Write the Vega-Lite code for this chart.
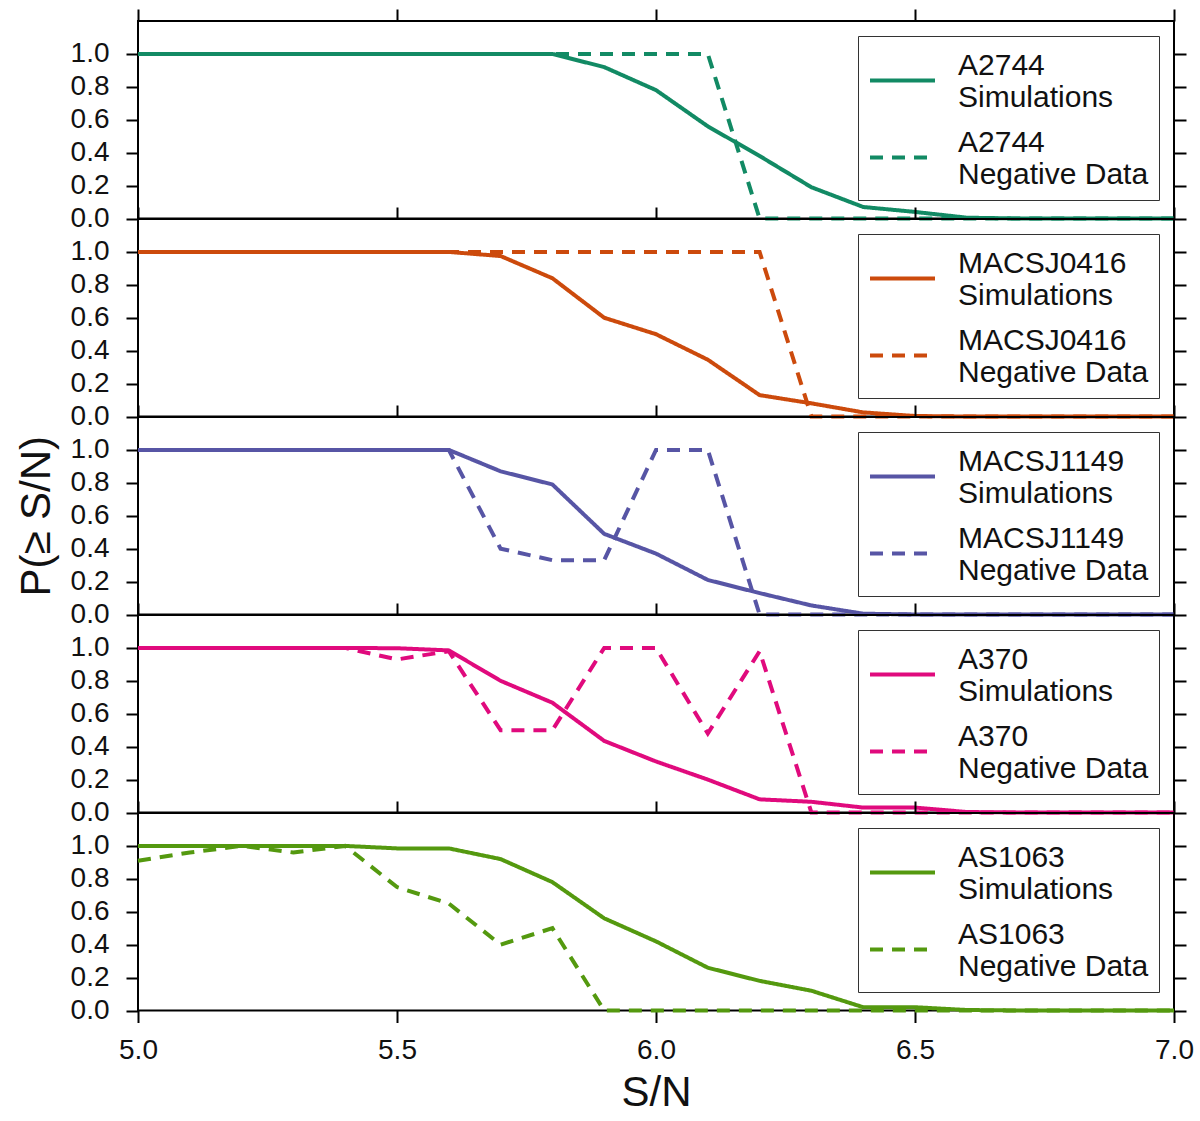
{
  "$schema": "https://vega.github.io/schema/vega-lite/v6.json",
  "background": "white",
  "padding": {"left": 14, "top": 7, "right": 6, "bottom": 6},
  "spacing": 0,
  "bounds": "flush",
  "config": {
    "font": "Liberation Sans",
    "view": {"stroke": "black", "strokeWidth": 2},
    "axis": {
      "domain": false, "grid": false, "ticks": true,
      "tickColor": "black", "tickWidth": 2, "tickSize": 12,
      "labelFont": "Liberation Sans", "labelFontSize": 28, "labelColor": "#111",
      "labelFlush": false, "labelPadding": 17,
      "titleFont": "Liberation Sans", "titleFontSize": 42, "titleFontWeight": "normal", "titleColor": "#111"
    },
    "legend": {
      "orient": "top-right", "offset": 15, "title": null,
      "fillColor": "white", "strokeColor": "#333", "padding": 10, "rowPadding": 10,
      "symbolType": "stroke", "symbolSize": 4225, "symbolStrokeWidth": 4,
      "labelFont": "Liberation Sans", "labelFontSize": 30, "labelColor": "#111", "labelBaseline": "bottom",
      "labelLimit": 400, "labelOffset": 21, "cornerRadius": 0
    }
  },
  "resolve": {
    "scale": {"color": "independent", "strokeDash": "independent"},
    "legend": {"color": "independent", "strokeDash": "independent"}
  },
  "datasets": {
    "A2744": [
      {"t": "Simulations", "x": 5.0, "p": 1}, {"t": "Simulations", "x": 5.1, "p": 1}, {"t": "Simulations", "x": 5.2, "p": 1},
      {"t": "Simulations", "x": 5.3, "p": 1}, {"t": "Simulations", "x": 5.4, "p": 1}, {"t": "Simulations", "x": 5.5, "p": 1},
      {"t": "Simulations", "x": 5.6, "p": 1}, {"t": "Simulations", "x": 5.7, "p": 1}, {"t": "Simulations", "x": 5.8, "p": 1},
      {"t": "Simulations", "x": 5.9, "p": 0.92}, {"t": "Simulations", "x": 6.0, "p": 0.78}, {"t": "Simulations", "x": 6.1, "p": 0.56},
      {"t": "Simulations", "x": 6.2, "p": 0.38}, {"t": "Simulations", "x": 6.3, "p": 0.19}, {"t": "Simulations", "x": 6.4, "p": 0.07},
      {"t": "Simulations", "x": 6.5, "p": 0.04}, {"t": "Simulations", "x": 6.6, "p": 0.005}, {"t": "Simulations", "x": 6.7, "p": 0},
      {"t": "Simulations", "x": 6.8, "p": 0}, {"t": "Simulations", "x": 6.9, "p": 0}, {"t": "Simulations", "x": 7.0, "p": 0},
      {"t": "Negative Data", "x": 5.0, "p": 1}, {"t": "Negative Data", "x": 5.1, "p": 1}, {"t": "Negative Data", "x": 5.2, "p": 1},
      {"t": "Negative Data", "x": 5.3, "p": 1}, {"t": "Negative Data", "x": 5.4, "p": 1}, {"t": "Negative Data", "x": 5.5, "p": 1},
      {"t": "Negative Data", "x": 5.6, "p": 1}, {"t": "Negative Data", "x": 5.7, "p": 1}, {"t": "Negative Data", "x": 5.8, "p": 1},
      {"t": "Negative Data", "x": 5.9, "p": 1}, {"t": "Negative Data", "x": 6.0, "p": 1}, {"t": "Negative Data", "x": 6.1, "p": 1},
      {"t": "Negative Data", "x": 6.2, "p": 0}, {"t": "Negative Data", "x": 6.3, "p": 0}, {"t": "Negative Data", "x": 6.4, "p": 0},
      {"t": "Negative Data", "x": 6.5, "p": 0}, {"t": "Negative Data", "x": 6.6, "p": 0}, {"t": "Negative Data", "x": 6.7, "p": 0},
      {"t": "Negative Data", "x": 6.8, "p": 0}, {"t": "Negative Data", "x": 6.9, "p": 0}, {"t": "Negative Data", "x": 7.0, "p": 0}
    ],
    "MACSJ0416": [
      {"t": "Simulations", "x": 5.0, "p": 1}, {"t": "Simulations", "x": 5.1, "p": 1}, {"t": "Simulations", "x": 5.2, "p": 1},
      {"t": "Simulations", "x": 5.3, "p": 1}, {"t": "Simulations", "x": 5.4, "p": 1}, {"t": "Simulations", "x": 5.5, "p": 1},
      {"t": "Simulations", "x": 5.6, "p": 1}, {"t": "Simulations", "x": 5.7, "p": 0.975}, {"t": "Simulations", "x": 5.8, "p": 0.84},
      {"t": "Simulations", "x": 5.9, "p": 0.6}, {"t": "Simulations", "x": 6.0, "p": 0.5}, {"t": "Simulations", "x": 6.1, "p": 0.345},
      {"t": "Simulations", "x": 6.2, "p": 0.13}, {"t": "Simulations", "x": 6.3, "p": 0.08}, {"t": "Simulations", "x": 6.4, "p": 0.025},
      {"t": "Simulations", "x": 6.5, "p": 0.003}, {"t": "Simulations", "x": 6.6, "p": 0}, {"t": "Simulations", "x": 6.7, "p": 0},
      {"t": "Simulations", "x": 6.8, "p": 0}, {"t": "Simulations", "x": 6.9, "p": 0}, {"t": "Simulations", "x": 7.0, "p": 0},
      {"t": "Negative Data", "x": 5.0, "p": 1}, {"t": "Negative Data", "x": 5.1, "p": 1}, {"t": "Negative Data", "x": 5.2, "p": 1},
      {"t": "Negative Data", "x": 5.3, "p": 1}, {"t": "Negative Data", "x": 5.4, "p": 1}, {"t": "Negative Data", "x": 5.5, "p": 1},
      {"t": "Negative Data", "x": 5.6, "p": 1}, {"t": "Negative Data", "x": 5.7, "p": 1}, {"t": "Negative Data", "x": 5.8, "p": 1},
      {"t": "Negative Data", "x": 5.9, "p": 1}, {"t": "Negative Data", "x": 6.0, "p": 1}, {"t": "Negative Data", "x": 6.1, "p": 1},
      {"t": "Negative Data", "x": 6.2, "p": 1}, {"t": "Negative Data", "x": 6.3, "p": 0}, {"t": "Negative Data", "x": 6.4, "p": 0},
      {"t": "Negative Data", "x": 6.5, "p": 0}, {"t": "Negative Data", "x": 6.6, "p": 0}, {"t": "Negative Data", "x": 6.7, "p": 0},
      {"t": "Negative Data", "x": 6.8, "p": 0}, {"t": "Negative Data", "x": 6.9, "p": 0}, {"t": "Negative Data", "x": 7.0, "p": 0}
    ],
    "MACSJ1149": [
      {"t": "Simulations", "x": 5.0, "p": 1}, {"t": "Simulations", "x": 5.1, "p": 1}, {"t": "Simulations", "x": 5.2, "p": 1},
      {"t": "Simulations", "x": 5.3, "p": 1}, {"t": "Simulations", "x": 5.4, "p": 1}, {"t": "Simulations", "x": 5.5, "p": 1},
      {"t": "Simulations", "x": 5.6, "p": 1}, {"t": "Simulations", "x": 5.7, "p": 0.87}, {"t": "Simulations", "x": 5.8, "p": 0.79},
      {"t": "Simulations", "x": 5.9, "p": 0.49}, {"t": "Simulations", "x": 6.0, "p": 0.37}, {"t": "Simulations", "x": 6.1, "p": 0.21},
      {"t": "Simulations", "x": 6.2, "p": 0.13}, {"t": "Simulations", "x": 6.3, "p": 0.055}, {"t": "Simulations", "x": 6.4, "p": 0.005},
      {"t": "Simulations", "x": 6.5, "p": 0}, {"t": "Simulations", "x": 6.6, "p": 0}, {"t": "Simulations", "x": 6.7, "p": 0},
      {"t": "Simulations", "x": 6.8, "p": 0}, {"t": "Simulations", "x": 6.9, "p": 0}, {"t": "Simulations", "x": 7.0, "p": 0},
      {"t": "Negative Data", "x": 5.0, "p": 1}, {"t": "Negative Data", "x": 5.1, "p": 1}, {"t": "Negative Data", "x": 5.2, "p": 1},
      {"t": "Negative Data", "x": 5.3, "p": 1}, {"t": "Negative Data", "x": 5.4, "p": 1}, {"t": "Negative Data", "x": 5.5, "p": 1},
      {"t": "Negative Data", "x": 5.6, "p": 1}, {"t": "Negative Data", "x": 5.7, "p": 0.4}, {"t": "Negative Data", "x": 5.8, "p": 0.33},
      {"t": "Negative Data", "x": 5.9, "p": 0.33}, {"t": "Negative Data", "x": 6.0, "p": 1}, {"t": "Negative Data", "x": 6.1, "p": 1},
      {"t": "Negative Data", "x": 6.2, "p": 0}, {"t": "Negative Data", "x": 6.3, "p": 0}, {"t": "Negative Data", "x": 6.4, "p": 0},
      {"t": "Negative Data", "x": 6.5, "p": 0}, {"t": "Negative Data", "x": 6.6, "p": 0}, {"t": "Negative Data", "x": 6.7, "p": 0},
      {"t": "Negative Data", "x": 6.8, "p": 0}, {"t": "Negative Data", "x": 6.9, "p": 0}, {"t": "Negative Data", "x": 7.0, "p": 0}
    ],
    "A370": [
      {"t": "Simulations", "x": 5.0, "p": 1}, {"t": "Simulations", "x": 5.1, "p": 1}, {"t": "Simulations", "x": 5.2, "p": 1},
      {"t": "Simulations", "x": 5.3, "p": 1}, {"t": "Simulations", "x": 5.4, "p": 1}, {"t": "Simulations", "x": 5.5, "p": 0.998},
      {"t": "Simulations", "x": 5.6, "p": 0.985}, {"t": "Simulations", "x": 5.7, "p": 0.8}, {"t": "Simulations", "x": 5.8, "p": 0.667},
      {"t": "Simulations", "x": 5.9, "p": 0.435}, {"t": "Simulations", "x": 6.0, "p": 0.31}, {"t": "Simulations", "x": 6.1, "p": 0.2},
      {"t": "Simulations", "x": 6.2, "p": 0.08}, {"t": "Simulations", "x": 6.3, "p": 0.065}, {"t": "Simulations", "x": 6.4, "p": 0.03},
      {"t": "Simulations", "x": 6.5, "p": 0.03}, {"t": "Simulations", "x": 6.6, "p": 0.003}, {"t": "Simulations", "x": 6.7, "p": 0},
      {"t": "Simulations", "x": 6.8, "p": 0}, {"t": "Simulations", "x": 6.9, "p": 0}, {"t": "Simulations", "x": 7.0, "p": 0},
      {"t": "Negative Data", "x": 5.0, "p": 1}, {"t": "Negative Data", "x": 5.1, "p": 1}, {"t": "Negative Data", "x": 5.2, "p": 1},
      {"t": "Negative Data", "x": 5.3, "p": 1}, {"t": "Negative Data", "x": 5.4, "p": 1}, {"t": "Negative Data", "x": 5.5, "p": 0.93},
      {"t": "Negative Data", "x": 5.6, "p": 0.98}, {"t": "Negative Data", "x": 5.7, "p": 0.5}, {"t": "Negative Data", "x": 5.8, "p": 0.5},
      {"t": "Negative Data", "x": 5.9, "p": 1}, {"t": "Negative Data", "x": 6.0, "p": 1}, {"t": "Negative Data", "x": 6.1, "p": 0.48},
      {"t": "Negative Data", "x": 6.2, "p": 0.98}, {"t": "Negative Data", "x": 6.3, "p": 0}, {"t": "Negative Data", "x": 6.4, "p": 0},
      {"t": "Negative Data", "x": 6.5, "p": 0}, {"t": "Negative Data", "x": 6.6, "p": 0}, {"t": "Negative Data", "x": 6.7, "p": 0},
      {"t": "Negative Data", "x": 6.8, "p": 0}, {"t": "Negative Data", "x": 6.9, "p": 0}, {"t": "Negative Data", "x": 7.0, "p": 0}
    ],
    "AS1063": [
      {"t": "Simulations", "x": 5.0, "p": 1}, {"t": "Simulations", "x": 5.1, "p": 1}, {"t": "Simulations", "x": 5.2, "p": 1},
      {"t": "Simulations", "x": 5.3, "p": 1}, {"t": "Simulations", "x": 5.4, "p": 1}, {"t": "Simulations", "x": 5.5, "p": 0.985},
      {"t": "Simulations", "x": 5.6, "p": 0.985}, {"t": "Simulations", "x": 5.7, "p": 0.92}, {"t": "Simulations", "x": 5.8, "p": 0.78},
      {"t": "Simulations", "x": 5.9, "p": 0.56}, {"t": "Simulations", "x": 6.0, "p": 0.42}, {"t": "Simulations", "x": 6.1, "p": 0.26},
      {"t": "Simulations", "x": 6.2, "p": 0.18}, {"t": "Simulations", "x": 6.3, "p": 0.12}, {"t": "Simulations", "x": 6.4, "p": 0.02},
      {"t": "Simulations", "x": 6.5, "p": 0.02}, {"t": "Simulations", "x": 6.6, "p": 0.003}, {"t": "Simulations", "x": 6.7, "p": 0},
      {"t": "Simulations", "x": 6.8, "p": 0}, {"t": "Simulations", "x": 6.9, "p": 0}, {"t": "Simulations", "x": 7.0, "p": 0},
      {"t": "Negative Data", "x": 5.0, "p": 0.91}, {"t": "Negative Data", "x": 5.1, "p": 0.96}, {"t": "Negative Data", "x": 5.2, "p": 1},
      {"t": "Negative Data", "x": 5.3, "p": 0.96}, {"t": "Negative Data", "x": 5.4, "p": 1}, {"t": "Negative Data", "x": 5.5, "p": 0.75},
      {"t": "Negative Data", "x": 5.6, "p": 0.65}, {"t": "Negative Data", "x": 5.7, "p": 0.4}, {"t": "Negative Data", "x": 5.8, "p": 0.5},
      {"t": "Negative Data", "x": 5.9, "p": 0}, {"t": "Negative Data", "x": 6.0, "p": 0}, {"t": "Negative Data", "x": 6.1, "p": 0},
      {"t": "Negative Data", "x": 6.2, "p": 0}, {"t": "Negative Data", "x": 6.3, "p": 0}, {"t": "Negative Data", "x": 6.4, "p": 0},
      {"t": "Negative Data", "x": 6.5, "p": 0}, {"t": "Negative Data", "x": 6.6, "p": 0}, {"t": "Negative Data", "x": 6.7, "p": 0},
      {"t": "Negative Data", "x": 6.8, "p": 0}, {"t": "Negative Data", "x": 6.9, "p": 0}, {"t": "Negative Data", "x": 7.0, "p": 0}
    ]
  },
  "vconcat": [
    {
      "width": 1036, "height": 197.5,
      "data": {"name": "A2744"},
      "resolve": {"axis": {"x": "independent", "y": "independent"}},
      "layer": [
        {
          "transform": [{"filter": "datum.t == 'Simulations'"}],
          "mark": {"type": "line", "strokeWidth": 4},
          "encoding": {
            "x": {"field": "x", "type": "quantitative", "scale": {"domain": [5, 7], "nice": false}, "axis": {"orient": "top", "labels": false, "title": null, "values": [5, 5.5, 6, 6.5, 7]}},
            "y": {"field": "p", "type": "quantitative", "scale": {"domain": [0, 1.2], "nice": false}, "axis": {"orient": "left", "values": [0, 0.2, 0.4, 0.6, 0.8, 1], "format": ".1f", "title": null}},
            "color": {"field": "t", "type": "nominal", "scale": {"domain": ["Simulations", "Negative Data"], "range": ["#128a64", "#128a64"]}, "legend": {"labelExpr": "['A2744', datum.label]"}},
            "strokeDash": {"field": "t", "type": "nominal", "scale": {"domain": ["Simulations", "Negative Data"], "range": [[1, 0], [13, 9]]}, "legend": {"labelExpr": "['A2744', datum.label]"}}
          }
        },
        {
          "transform": [{"filter": "datum.t == 'Negative Data'"}],
          "mark": {"type": "line", "strokeWidth": 4},
          "encoding": {
            "x": {"field": "x", "type": "quantitative", "axis": null},
            "y": {"field": "p", "type": "quantitative", "axis": {"orient": "right", "labels": false, "title": null, "values": [0, 0.2, 0.4, 0.6, 0.8, 1]}},
            "color": {"field": "t", "type": "nominal"},
            "strokeDash": {"field": "t", "type": "nominal"}
          }
        }
      ]
    },
    {
      "width": 1036, "height": 197.5,
      "data": {"name": "MACSJ0416"},
      "resolve": {"axis": {"x": "independent", "y": "independent"}},
      "layer": [
        {
          "transform": [{"filter": "datum.t == 'Simulations'"}],
          "mark": {"type": "line", "strokeWidth": 4},
          "encoding": {
            "x": {"field": "x", "type": "quantitative", "scale": {"domain": [5, 7], "nice": false}, "axis": {"orient": "top", "labels": false, "title": null, "values": [5, 5.5, 6, 6.5, 7]}},
            "y": {"field": "p", "type": "quantitative", "scale": {"domain": [0, 1.2], "nice": false}, "axis": {"orient": "left", "values": [0, 0.2, 0.4, 0.6, 0.8, 1], "format": ".1f", "title": null}},
            "color": {"field": "t", "type": "nominal", "scale": {"domain": ["Simulations", "Negative Data"], "range": ["#cc4a0c", "#cc4a0c"]}, "legend": {"labelExpr": "['MACSJ0416', datum.label]"}},
            "strokeDash": {"field": "t", "type": "nominal", "scale": {"domain": ["Simulations", "Negative Data"], "range": [[1, 0], [13, 9]]}, "legend": {"labelExpr": "['MACSJ0416', datum.label]"}}
          }
        },
        {
          "transform": [{"filter": "datum.t == 'Negative Data'"}],
          "mark": {"type": "line", "strokeWidth": 4},
          "encoding": {
            "x": {"field": "x", "type": "quantitative", "axis": null},
            "y": {"field": "p", "type": "quantitative", "axis": {"orient": "right", "labels": false, "title": null, "values": [0, 0.2, 0.4, 0.6, 0.8, 1]}},
            "color": {"field": "t", "type": "nominal"},
            "strokeDash": {"field": "t", "type": "nominal"}
          }
        }
      ]
    },
    {
      "width": 1036, "height": 197.5,
      "data": {"name": "MACSJ1149"},
      "resolve": {"axis": {"x": "independent", "y": "independent"}},
      "layer": [
        {
          "transform": [{"filter": "datum.t == 'Simulations'"}],
          "mark": {"type": "line", "strokeWidth": 4},
          "encoding": {
            "x": {"field": "x", "type": "quantitative", "scale": {"domain": [5, 7], "nice": false}, "axis": {"orient": "top", "labels": false, "title": null, "values": [5, 5.5, 6, 6.5, 7]}},
            "y": {"field": "p", "type": "quantitative", "scale": {"domain": [0, 1.2], "nice": false}, "axis": {"orient": "left", "values": [0, 0.2, 0.4, 0.6, 0.8, 1], "format": ".1f", "title": "P(≥ S/N)", "titlePadding": 12}},
            "color": {"field": "t", "type": "nominal", "scale": {"domain": ["Simulations", "Negative Data"], "range": ["#5755a5", "#5755a5"]}, "legend": {"labelExpr": "['MACSJ1149', datum.label]"}},
            "strokeDash": {"field": "t", "type": "nominal", "scale": {"domain": ["Simulations", "Negative Data"], "range": [[1, 0], [13, 9]]}, "legend": {"labelExpr": "['MACSJ1149', datum.label]"}}
          }
        },
        {
          "transform": [{"filter": "datum.t == 'Negative Data'"}],
          "mark": {"type": "line", "strokeWidth": 4},
          "encoding": {
            "x": {"field": "x", "type": "quantitative", "axis": null},
            "y": {"field": "p", "type": "quantitative", "axis": {"orient": "right", "labels": false, "title": null, "values": [0, 0.2, 0.4, 0.6, 0.8, 1]}},
            "color": {"field": "t", "type": "nominal"},
            "strokeDash": {"field": "t", "type": "nominal"}
          }
        }
      ]
    },
    {
      "width": 1036, "height": 197.5,
      "data": {"name": "A370"},
      "resolve": {"axis": {"x": "independent", "y": "independent"}},
      "layer": [
        {
          "transform": [{"filter": "datum.t == 'Simulations'"}],
          "mark": {"type": "line", "strokeWidth": 4},
          "encoding": {
            "x": {"field": "x", "type": "quantitative", "scale": {"domain": [5, 7], "nice": false}, "axis": {"orient": "top", "labels": false, "title": null, "values": [5, 5.5, 6, 6.5, 7]}},
            "y": {"field": "p", "type": "quantitative", "scale": {"domain": [0, 1.2], "nice": false}, "axis": {"orient": "left", "values": [0, 0.2, 0.4, 0.6, 0.8, 1], "format": ".1f", "title": null}},
            "color": {"field": "t", "type": "nominal", "scale": {"domain": ["Simulations", "Negative Data"], "range": ["#e00a7d", "#e00a7d"]}, "legend": {"labelExpr": "['A370', datum.label]"}},
            "strokeDash": {"field": "t", "type": "nominal", "scale": {"domain": ["Simulations", "Negative Data"], "range": [[1, 0], [13, 9]]}, "legend": {"labelExpr": "['A370', datum.label]"}}
          }
        },
        {
          "transform": [{"filter": "datum.t == 'Negative Data'"}],
          "mark": {"type": "line", "strokeWidth": 4},
          "encoding": {
            "x": {"field": "x", "type": "quantitative", "axis": null},
            "y": {"field": "p", "type": "quantitative", "axis": {"orient": "right", "labels": false, "title": null, "values": [0, 0.2, 0.4, 0.6, 0.8, 1]}},
            "color": {"field": "t", "type": "nominal"},
            "strokeDash": {"field": "t", "type": "nominal"}
          }
        }
      ]
    },
    {
      "width": 1036, "height": 197.5,
      "data": {"name": "AS1063"},
      "resolve": {"axis": {"x": "independent", "y": "independent"}},
      "layer": [
        {
          "transform": [{"filter": "datum.t == 'Simulations'"}],
          "mark": {"type": "line", "strokeWidth": 4},
          "encoding": {
            "x": {"field": "x", "type": "quantitative", "scale": {"domain": [5, 7], "nice": false}, "axis": {"orient": "top", "labels": false, "title": null, "values": [5, 5.5, 6, 6.5, 7]}},
            "y": {"field": "p", "type": "quantitative", "scale": {"domain": [0, 1.2], "nice": false}, "axis": {"orient": "left", "values": [0, 0.2, 0.4, 0.6, 0.8, 1], "format": ".1f", "title": null}},
            "color": {"field": "t", "type": "nominal", "scale": {"domain": ["Simulations", "Negative Data"], "range": ["#54990f", "#54990f"]}, "legend": {"labelExpr": "['AS1063', datum.label]"}},
            "strokeDash": {"field": "t", "type": "nominal", "scale": {"domain": ["Simulations", "Negative Data"], "range": [[1, 0], [13, 9]]}, "legend": {"labelExpr": "['AS1063', datum.label]"}}
          }
        },
        {
          "transform": [{"filter": "datum.t == 'Negative Data'"}],
          "mark": {"type": "line", "strokeWidth": 4},
          "encoding": {
            "x": {"field": "x", "type": "quantitative", "axis": {"orient": "bottom", "values": [5, 5.5, 6, 6.5, 7], "format": ".1f", "title": "S/N", "labelPadding": 14, "titlePadding": 8}},
            "y": {"field": "p", "type": "quantitative", "axis": {"orient": "right", "labels": false, "title": null, "values": [0, 0.2, 0.4, 0.6, 0.8, 1]}},
            "color": {"field": "t", "type": "nominal"},
            "strokeDash": {"field": "t", "type": "nominal"}
          }
        }
      ]
    }
  ]
}
